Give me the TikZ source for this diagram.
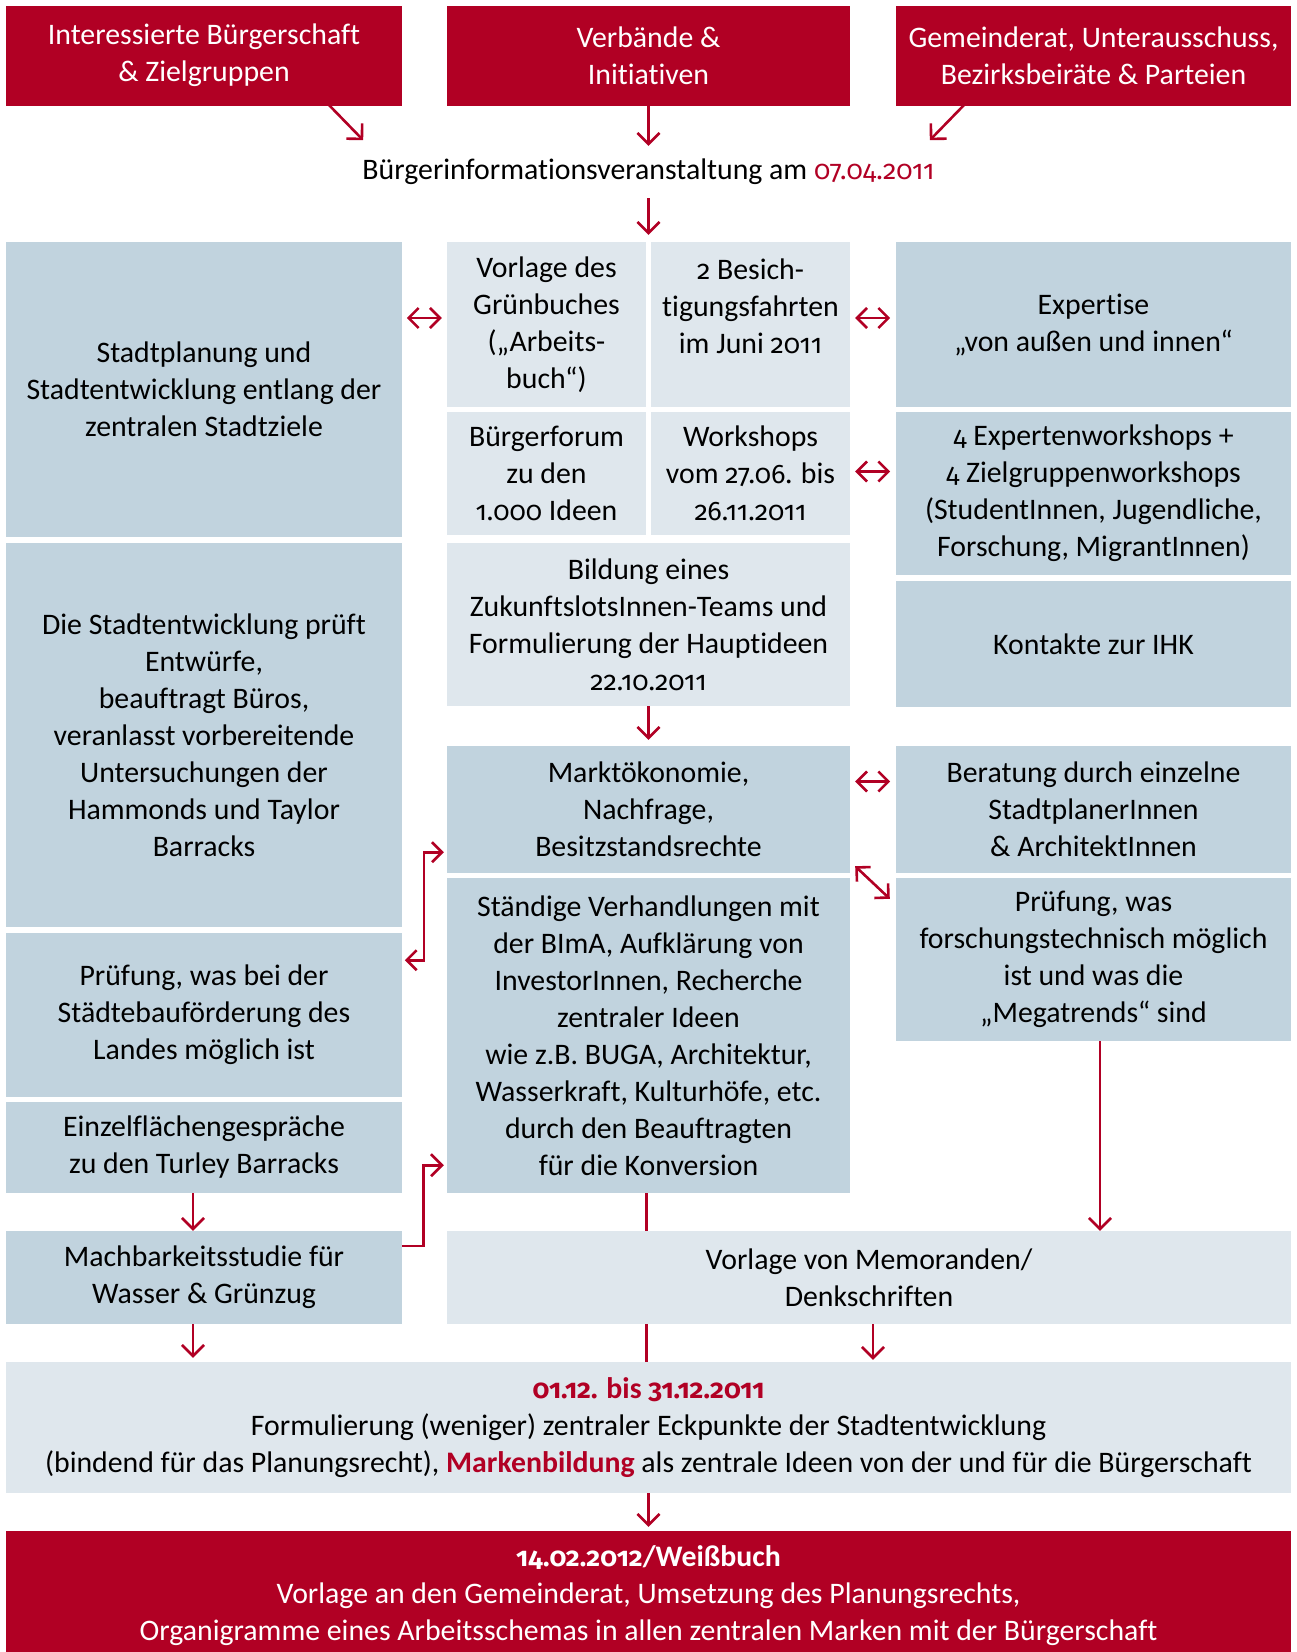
\documentclass[tikz,border=0pt]{standalone}
\usepackage{fontspec}
\setmainfont{Carlito}[Ligatures={NoCommon}]
\newfontfamily\numf{Fira Sans}[Numbers=OldStyle,Scale=0.9]
\newcommand\od[1]{{\numf #1}}
\usetikzlibrary{arrows.meta}
\definecolor{brand}{RGB}{177,0,36}
\definecolor{boxdark}{RGB}{193,211,222}
\definecolor{boxlight}{RGB}{223,231,237}
\newcommand\mainsz{\fontsize{29.8pt}{37pt}\selectfont}
\tikzset{
  base/.style={rectangle, inner sep=0pt, align=center, font=\mainsz},
  dbox/.style={base, fill=boxdark},
  lbox/.style={base, fill=boxlight},
  rbox/.style={base, fill=brand, text=white},
  arr/.style={draw=brand, line width=2.6pt, -{Straight Barb[length=11pt,width=22pt]}},
  dbl/.style={draw=brand, line width=2.6pt, {Straight Barb[length=10pt,width=20pt]}-{Straight Barb[length=10pt,width=20pt]}},
  ln/.style={draw=brand, line width=2.6pt}
}
\begin{document}
\begin{tikzpicture}[x=1pt,y=-1pt]
\useasboundingbox (0,0) rectangle (1297,1652);
% top row
\node[rbox, minimum width=396pt, minimum height=100pt] (top1) at (204,55.5) {Interessierte Bürgerschaft\\ \& Zielgruppen};
\node[rbox, minimum width=403pt, minimum height=100pt] (top2) at (648.5,55.5) {Verbände \&\\ Initiativen};
\node[rbox, minimum width=395pt, minimum height=100pt] (top3) at (1093.5,55.5) {Gemeinderat, Unterausschuss,\\ Bezirksbeiräte \& Parteien};
\node[base, minimum height=52pt] (info) at (648.5,172) {Bürgerinformationsveranstaltung am \textcolor{brand}{\od{07.04.2011}}};
% left column
\node[dbox, minimum width=396pt, minimum height=295pt] (l1) at (204,389.5) {Stadtplanung und\\ Stadtentwicklung entlang der\\ zentralen Stadtziele};
\node[dbox, minimum width=396pt, minimum height=384pt] (l2) at (204,735) {Die Stadtentwicklung prüft\\ Entwürfe,\\ beauftragt Büros,\\ veranlasst vorbereitende\\ Untersuchungen der\\ Hammonds und Taylor\\ Barracks};
\node[dbox, minimum width=396pt, minimum height=164pt] (l3) at (204,1015) {Prüfung, was bei der\\ Städtebauförderung des\\ Landes möglich ist};
\node[dbox, minimum width=396pt, minimum height=91pt] (l4) at (204,1147.5) {Einzelflächengespräche\\ zu den Turley Barracks};
\node[dbox, minimum width=396pt, minimum height=93pt] (l5) at (204,1277.5) {Machbarkeitsstudie für\\ Wasser \& Grünzug};
% middle column
\node[lbox, minimum width=199pt, minimum height=165pt] (ma1) at (546.5,324.5) {Vorlage des\\ Grünbuches\\ („Arbeits-\\ buch“)};
\node[lbox, minimum width=199pt, minimum height=165pt] (mb1) at (750.5,324.5) {\od{2} Besich-\\ tigungsfahrten\\ im Juni \od{2011}\\ \mbox{}};
\node[lbox, minimum width=199pt, minimum height=123pt] (ma2) at (546.5,473.5) {Bürgerforum\\ zu den\\ \od{1.000} Ideen};
\node[lbox, minimum width=199pt, minimum height=123pt] (mb2) at (750.5,473.5) {Workshops\\ vom \od{27.06.} bis\\ \od{26.11.2011}};
\node[lbox, minimum width=403pt, minimum height=163pt] (m3) at (648.5,624.5) {Bildung eines\\ ZukunftslotsInnen-Teams und\\ Formulierung der Hauptideen\\ \od{22.10.2011}};
\node[dbox, minimum width=403pt, minimum height=127pt] (m4) at (648.5,809.5) {Marktökonomie,\\ Nachfrage,\\ Besitzstandsrechte};
\node[dbox, minimum width=403pt, minimum height=315pt] (m5) at (648.5,1035.5) {Ständige Verhandlungen mit\\ der BImA, Aufklärung von\\ InvestorInnen, Recherche\\ zentraler Ideen\\ wie z.B. BUGA, Architektur,\\ Wasserkraft, Kulturhöfe, etc.\\ durch den Beauftragten\\ für die Konversion};
\node[lbox, minimum width=844pt, minimum height=93pt] (m6) at (869,1277.5) {Vorlage von Memoranden/\\ Denkschriften};
% right column
\node[dbox, minimum width=395pt, minimum height=165pt] (r1) at (1093.5,324.5) {Expertise\\ „von außen und innen“};
\node[dbox, minimum width=395pt, minimum height=163pt] (r2) at (1093.5,493.5) {\od{4} Expertenworkshops +\\ \od{4} Zielgruppenworkshops\\ (StudentInnen, Jugendliche,\\ Forschung, MigrantInnen)};
\node[dbox, minimum width=395pt, minimum height=126pt] (r3) at (1093.5,644) {Kontakte zur IHK};
\node[dbox, minimum width=395pt, minimum height=127pt] (r4) at (1093.5,809.5) {Beratung durch einzelne\\ StadtplanerInnen\\ \& ArchitektInnen};
\node[dbox, minimum width=395pt, minimum height=163pt] (r5) at (1093.5,959.5) {Prüfung, was\\ forschungstechnisch möglich\\ ist und was die\\ „Megatrends“ sind};
% bottom
\node[lbox, minimum width=1285pt, minimum height=131pt] (bot) at (648.5,1427.5) {{\bfseries\color{brand}\od{01.12.} bis \od{31.12.2011}}\\ Formulierung (weniger) zentraler Eckpunkte der Stadtentwicklung\\ (bindend für das Planungsrecht), {\bfseries\color{brand}Markenbildung} als zentrale Ideen von der und für die Bürgerschaft};
\node[rbox, minimum width=1285pt, minimum height=130pt] (red) at (648.5,1596) {{\bfseries \od{14.02.2012}/Weißbuch}\\ Vorlage an den Gemeinderat, Umsetzung des Planungsrechts,\\ Organigramme eines Arbeitsschemas in allen zentralen Marken mit der Bürgerschaft};
% connectors
\draw[arr] ([shift={(-74,-1.5)}]top1.south east) -- ++(35,36);
\draw[arr] ([yshift=1.5pt]top2.south) -- (info.north);
\draw[arr] ([shift={(69,-1.5)}]top3.south west) -- ++(-35,36);
\draw[arr, shorten >=7pt] (info.south) -- (info.south |- ma1.north);
\draw[dbl] ([shift={(-5,-6.5)}]ma1.west) -- ++(-35,0);
\draw[dbl] ([shift={(5,-6.5)}]mb1.east) -- ++(35,0);
\draw[dbl] ([shift={(5,-2)}]mb2.east) -- ++(35,0);
\draw[arr, shorten >=6pt] (m3.south) -- (m4.north);
\draw[dbl] ([shift={(5,-28)}]m4.east) -- ++(35,0);
\draw[dbl] ([shift={(5,-7)}]m4.south east) -- ([shift={(-6,21)}]r5.north west);
\draw[dbl] ([shift={(-3,-21)}]m4.south west) -- ++(-20,0) -- ++(0,108) -- ++(-19,0);
\draw[arr] ([shift={(0,15)}]l5.north east) -- ++(21,0) |- ([shift={(-3,-28)}]m5.south west);
\draw[arr] ([xshift=-11pt]l4.south) -- ([xshift=-11pt]l4.south |- l5.north);
\draw[arr, shorten >=4pt] ([xshift=-11pt]l5.south) -- ([xshift=-11pt]l5.south |- bot.north);
\draw[ln] ([xshift=-2pt]m5.south) -- ([xshift=-2pt]m5.south |- m6.north);
\draw[ln] ([xshift=-2pt]m5.south |- m6.south) -- ([xshift=-2pt]m5.south |- bot.north);
\draw[arr] ([xshift=6.5pt]r5.south) -- ([xshift=6.5pt]r5.south |- m6.north);
\draw[arr, shorten >=2pt] ([xshift=4pt]m6.south) -- ([xshift=4pt]m6.south |- bot.north);
\draw[arr, shorten >=3pt] (bot.south) -- ([yshift=1pt]red.north);
\end{tikzpicture}
\end{document}
